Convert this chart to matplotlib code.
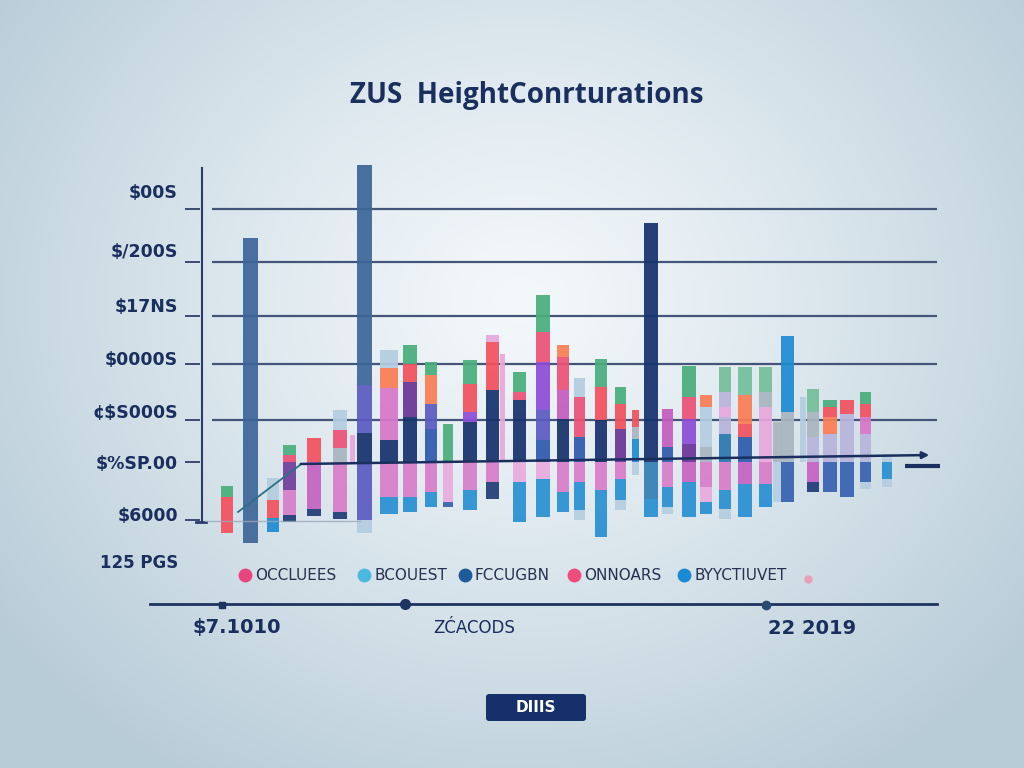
import numpy as np
import matplotlib
matplotlib.use('Agg')
import matplotlib.pyplot as plt
from matplotlib.patches import FancyBboxPatch
from matplotlib.colors import to_rgb

# ---------------- data ----------------
title = "ZUS  HeightConrturations"
y_labels = ["$00S", "$/200S", "$17NS", "$0000S", "¢$S000S", "$%SP.00", "$6000"]
y_extra = "125 PGS"
legend_labels = ["OCCLUEES", "BCOUEST", "FCCUGBN", "ONNOARS", "BYYCTIUVET"]
x_labels = ["$7.1010", "ZĆACODS", "22 2019"]
button_label = "DIIIS"

# bar positions along the horizontal axis
bar_x = [227, 250, 273, 289, 314, 340, 352, 364, 389, 410, 431, 448, 470, 492, 502, 520,
         543, 563, 580, 601, 621, 636, 651, 668, 689, 706, 725, 745, 766, 778, 788, 803,
         813, 830, 847, 866, 887]
# starting level of each upward stack
base = [-71, -81, -70, 0, 0, 0, 0, -71, 0, 0, 0, 0, 0, 0, 0, 0,
        0, 0, 0, 0, 0, 0, 0, 0, 0, 0, 0, 0, 0, 0, 0, 0, 0, 0, 0, 0, 0]
# upward stacked segments (bottom to top)
up1 = [36, 305, 14, 7, 24, 14, 27, 13, 22, 45, 33, 38, 40, 72, 108, 62, 22, 43, 25, 42, 33, 23,
       239, 15, 18, 15, 28, 25, 55, 40, 50, 65, 25, 28, 48, 28, 8]
up2 = [11, 0, 18, 10, 0, 18, 0, 58, 52, 35, 25, 0, 10, 48, 0, 8, 30, 29, 40, 33, 25, 12, 0, 38,
       25, 40, 17, 13, 15, 0, 76, 0, 25, 17, 14, 17, 0]
up3 = [0, 0, 22, 0, 0, 20, 0, 29, 20, 18, 29, 0, 28, 7, 0, 20, 48, 33, 19, 28, 17, 17, 0, 0, 22,
       12, 10, 29, 25, 0, 0, 0, 23, 10, 0, 13, 0]
up4 = [0, 0, 0, 0, 0, 0, 0, 48, 18, 19, 13, 0, 24, 0, 0, 0, 30, 12, 0, 0, 0, 0, 0, 0, 31, 0, 15,
       28, 0, 0, 0, 0, 0, 7, 0, 12, 0]
up5 = [0, 0, 0, 0, 0, 0, 0, 220, 0, 0, 0, 0, 0, 0, 0, 0, 37, 0, 0, 0, 0, 0, 0, 0, 0, 0, 25, 0,
       0, 0, 0, 0, 0, 0, 0, 0, 0]
# downward stacked segments (from the baseline down)
dn1 = [0, 0, 0, 28, 47, 50, 0, 0, 35, 35, 30, 40, 28, 20, 0, 20, 17, 30, 20, 28, 17, 13, 37, 25,
       20, 25, 28, 22, 22, 40, 40, 0, 20, 30, 35, 20, 17]
dn2 = [0, 0, 0, 25, 7, 7, 0, 0, 17, 15, 15, 5, 20, 17, 0, 40, 38, 20, 28, 47, 21, 0, 18, 20, 35,
       15, 19, 33, 23, 0, 0, 0, 10, 0, 0, 7, 8]
dn3 = [0, 0, 0, 7, 0, 0, 0, 0, 0, 0, 0, 0, 0, 0, 0, 0, 0, 0, 10, 0, 10, 0, 0, 7, 0, 12, 10, 0, 0,
       0, 0, 0, 0, 0, 0, 0, 0]
grid_vals = [253, 200, 146, 98, 42]

# ---------------- styles ----------------
up1_c = "RTSrRYkLNNBGNNkNBNBNPSNBPYUBkYYLAAAAL"
up2_c = "G-RG-r-IKPI-VR-rIMrRRY-MVLARY-S-YORK-"
up3_c = "--L--L-NORO-Rk-GVrLGGR--rOkOg---gR-R-"
up4_c = "-------ILGG-G---rO------G-Ag-----G-G-"
up5_c = "-------T--------G---------g----------"
dn1_c = "---PMK--KKKkKK-kkKKKKLUKMKKMKLB-MBBBS"
dn2_c = "---KNN--SSSBSN-SSSSSS-SSSkSSS---N--LL"
dn3_c = "---N--------------L-L--L-SL----------"
pal = {'R': '#f2515e', 'r': '#ec5277', 'G': '#4aae7c', 'g': '#74bf9a', 'O': '#fb7d55',
       'P': '#6a3596', 'V': '#8d4dd6', 'I': '#5b5bc2', 'M': '#c55bbf', 'K': '#d877c8',
       'k': '#e8a8dd', 'N': '#17326e', 'B': '#2f5aad', 'S': '#1f8bd1', 'U': '#2a78b0',
       'L': '#b4cde0', 'T': '#3d6699', 'A': '#b8b4dc', 'Y': '#a9b6c0'}
bar_w = [12, 15, 12, 13, 14, 14, 5, 15, 18, 14, 12, 10, 14, 13, 5, 13,
         14, 12, 11, 12, 11, 7, 14, 11, 14, 12, 12, 14, 13, 9, 13, 6, 12, 14, 14, 11, 10]
navy = '#1b2f5e'

W, H = 1024, 768
fig = plt.figure(figsize=(10.24, 7.68), dpi=100)

# background gradient
bg = fig.add_axes([0, 0, 1, 1], zorder=0)
yy, xx = np.mgrid[0:H, 0:W]
d = np.sqrt(((xx - 520) / 640.0) ** 2 + ((yy - 300) / 560.0) ** 2)
t = np.clip(d, 0, 1) ** 1.2
c0 = np.array(to_rgb('#f3f8fb'))
c1 = np.array(to_rgb('#b8ccd8'))
img = c0 * (1 - t[..., None]) + c1 * t[..., None]
bg.imshow(img, extent=(0, W, H, 0), aspect='auto')
bg.set_xlim(0, W)
bg.set_ylim(H, 0)
bg.axis('off')

# bar axes
ax = fig.add_axes([205 / W, 1 - 550 / H, 735 / W, 400 / H], zorder=1)
ax.set_xlim(205, 940)
ax.set_ylim(462 - 550, 462 - 150)
ax.patch.set_alpha(0)
ax.axis('off')

for v in grid_vals:
    ax.plot([212, 937], [v, v], color='#45557a', lw=1.6, zorder=1, solid_capstyle='butt')

n = len(bar_x)
ups = [(up1, up1_c), (up2, up2_c), (up3, up3_c), (up4, up4_c), (up5, up5_c)]
dns = [(dn1, dn1_c), (dn2, dn2_c), (dn3, dn3_c)]
bottom = np.array(base, dtype=float)
for vals, cols in ups:
    for i in range(n):
        if vals[i] > 0:
            ax.bar(bar_x[i], vals[i], width=bar_w[i], bottom=bottom[i],
                   color=pal[cols[i]], alpha=0.93, zorder=2, linewidth=0)
    bottom = bottom + np.array(vals)
top = np.zeros(n)
for vals, cols in dns:
    for i in range(n):
        if vals[i] > 0:
            ax.bar(bar_x[i], -vals[i], width=bar_w[i], bottom=top[i],
                   color=pal[cols[i]], alpha=0.88, zorder=2, linewidth=0)
    top = top - np.array(vals)

# overlay for decorations
ov = fig.add_axes([0, 0, 1, 1], zorder=3)
ov.set_xlim(0, W)
ov.set_ylim(H, 0)
ov.patch.set_alpha(0)
ov.axis('off')

ov.text(527, 96, title, ha='center', va='center', fontsize=20, fontweight='bold',
        color=navy, family='Open Sans')

# left spine and ticks
ov.plot([202, 202], [168, 522], color='#2a3d6a', lw=1.5)
ov.plot([196, 206], [522, 522], color='#2a3d6a', lw=2)
tick_y = [209, 262, 316, 364, 420, 462, 520]
for ty in tick_y:
    ov.plot([186, 199], [ty, ty], color='#3a4a70', lw=1.4)
lab_y = [193, 252, 307, 360, 413, 464, 516]
for s, ly in zip(y_labels, lab_y):
    ov.text(178, ly, s, ha='right', va='center', fontsize=12.5, fontweight='bold',
            color=navy, family='DejaVu Sans')
ov.text(178, 563, y_extra, ha='right', va='center', fontsize=12, fontweight='bold',
        color=navy, family='DejaVu Sans')

# baseline with arrow
ov.plot([205, 360], [521, 521], color='#9aa8bc', lw=1.0, alpha=0.8)
ov.plot([238, 300], [512, 465], color='#2e6f86', lw=1.3)
ov.annotate('', xy=(932, 455), xytext=(298, 464),
            arrowprops=dict(arrowstyle='-|>', color='#1b2f5e', lw=1.8, mutation_scale=10))
ov.plot([905, 940], [466, 466], color='#1b2f5e', lw=3, solid_capstyle='butt')

# legend
leg_x = [245, 364, 465, 574, 684]
leg_c = ['#e8457f', '#4bb8e0', '#1f5a9a', '#ee4d7b', '#1a8ad4']
for lx, lc, lt in zip(leg_x, leg_c, legend_labels):
    ov.plot(lx, 575, 'o', ms=10, color=lc, mec='none')
    ov.text(lx + 10, 576, lt, ha='left', va='center', fontsize=11, color='#26324f',
            family='DejaVu Sans')
ov.plot(808, 579, 'o', ms=6, color='#eaa0b4', mec='none')

# bottom axis
ov.plot([150, 937], [604, 604], color='#1e3460', lw=2)
ov.plot(222, 605, 's', ms=5, color='#1e3460')
ov.plot(405, 604, 'o', ms=7, color='#1e3460')
ov.plot(766, 605, 'o', ms=6, color='#2a4a70')
ov.text(237, 628, x_labels[0], ha='center', va='center', fontsize=14, fontweight='bold',
        color=navy, family='DejaVu Sans')
ov.text(474, 628, x_labels[1], ha='center', va='center', fontsize=12, color=navy,
        family='DejaVu Sans')
ov.text(812, 628, x_labels[2], ha='center', va='center', fontsize=14, fontweight='bold',
        color=navy, family='DejaVu Sans')

# button
ov.add_patch(FancyBboxPatch((486, 694), 100, 27, boxstyle='round,pad=0,rounding_size=3',
                            fc='#15306a', ec='none'))
ov.text(536, 707, button_label, ha='center', va='center', fontsize=11, fontweight='bold',
        color='white', family='DejaVu Sans')

fig.savefig('out.png', dpi=100)
